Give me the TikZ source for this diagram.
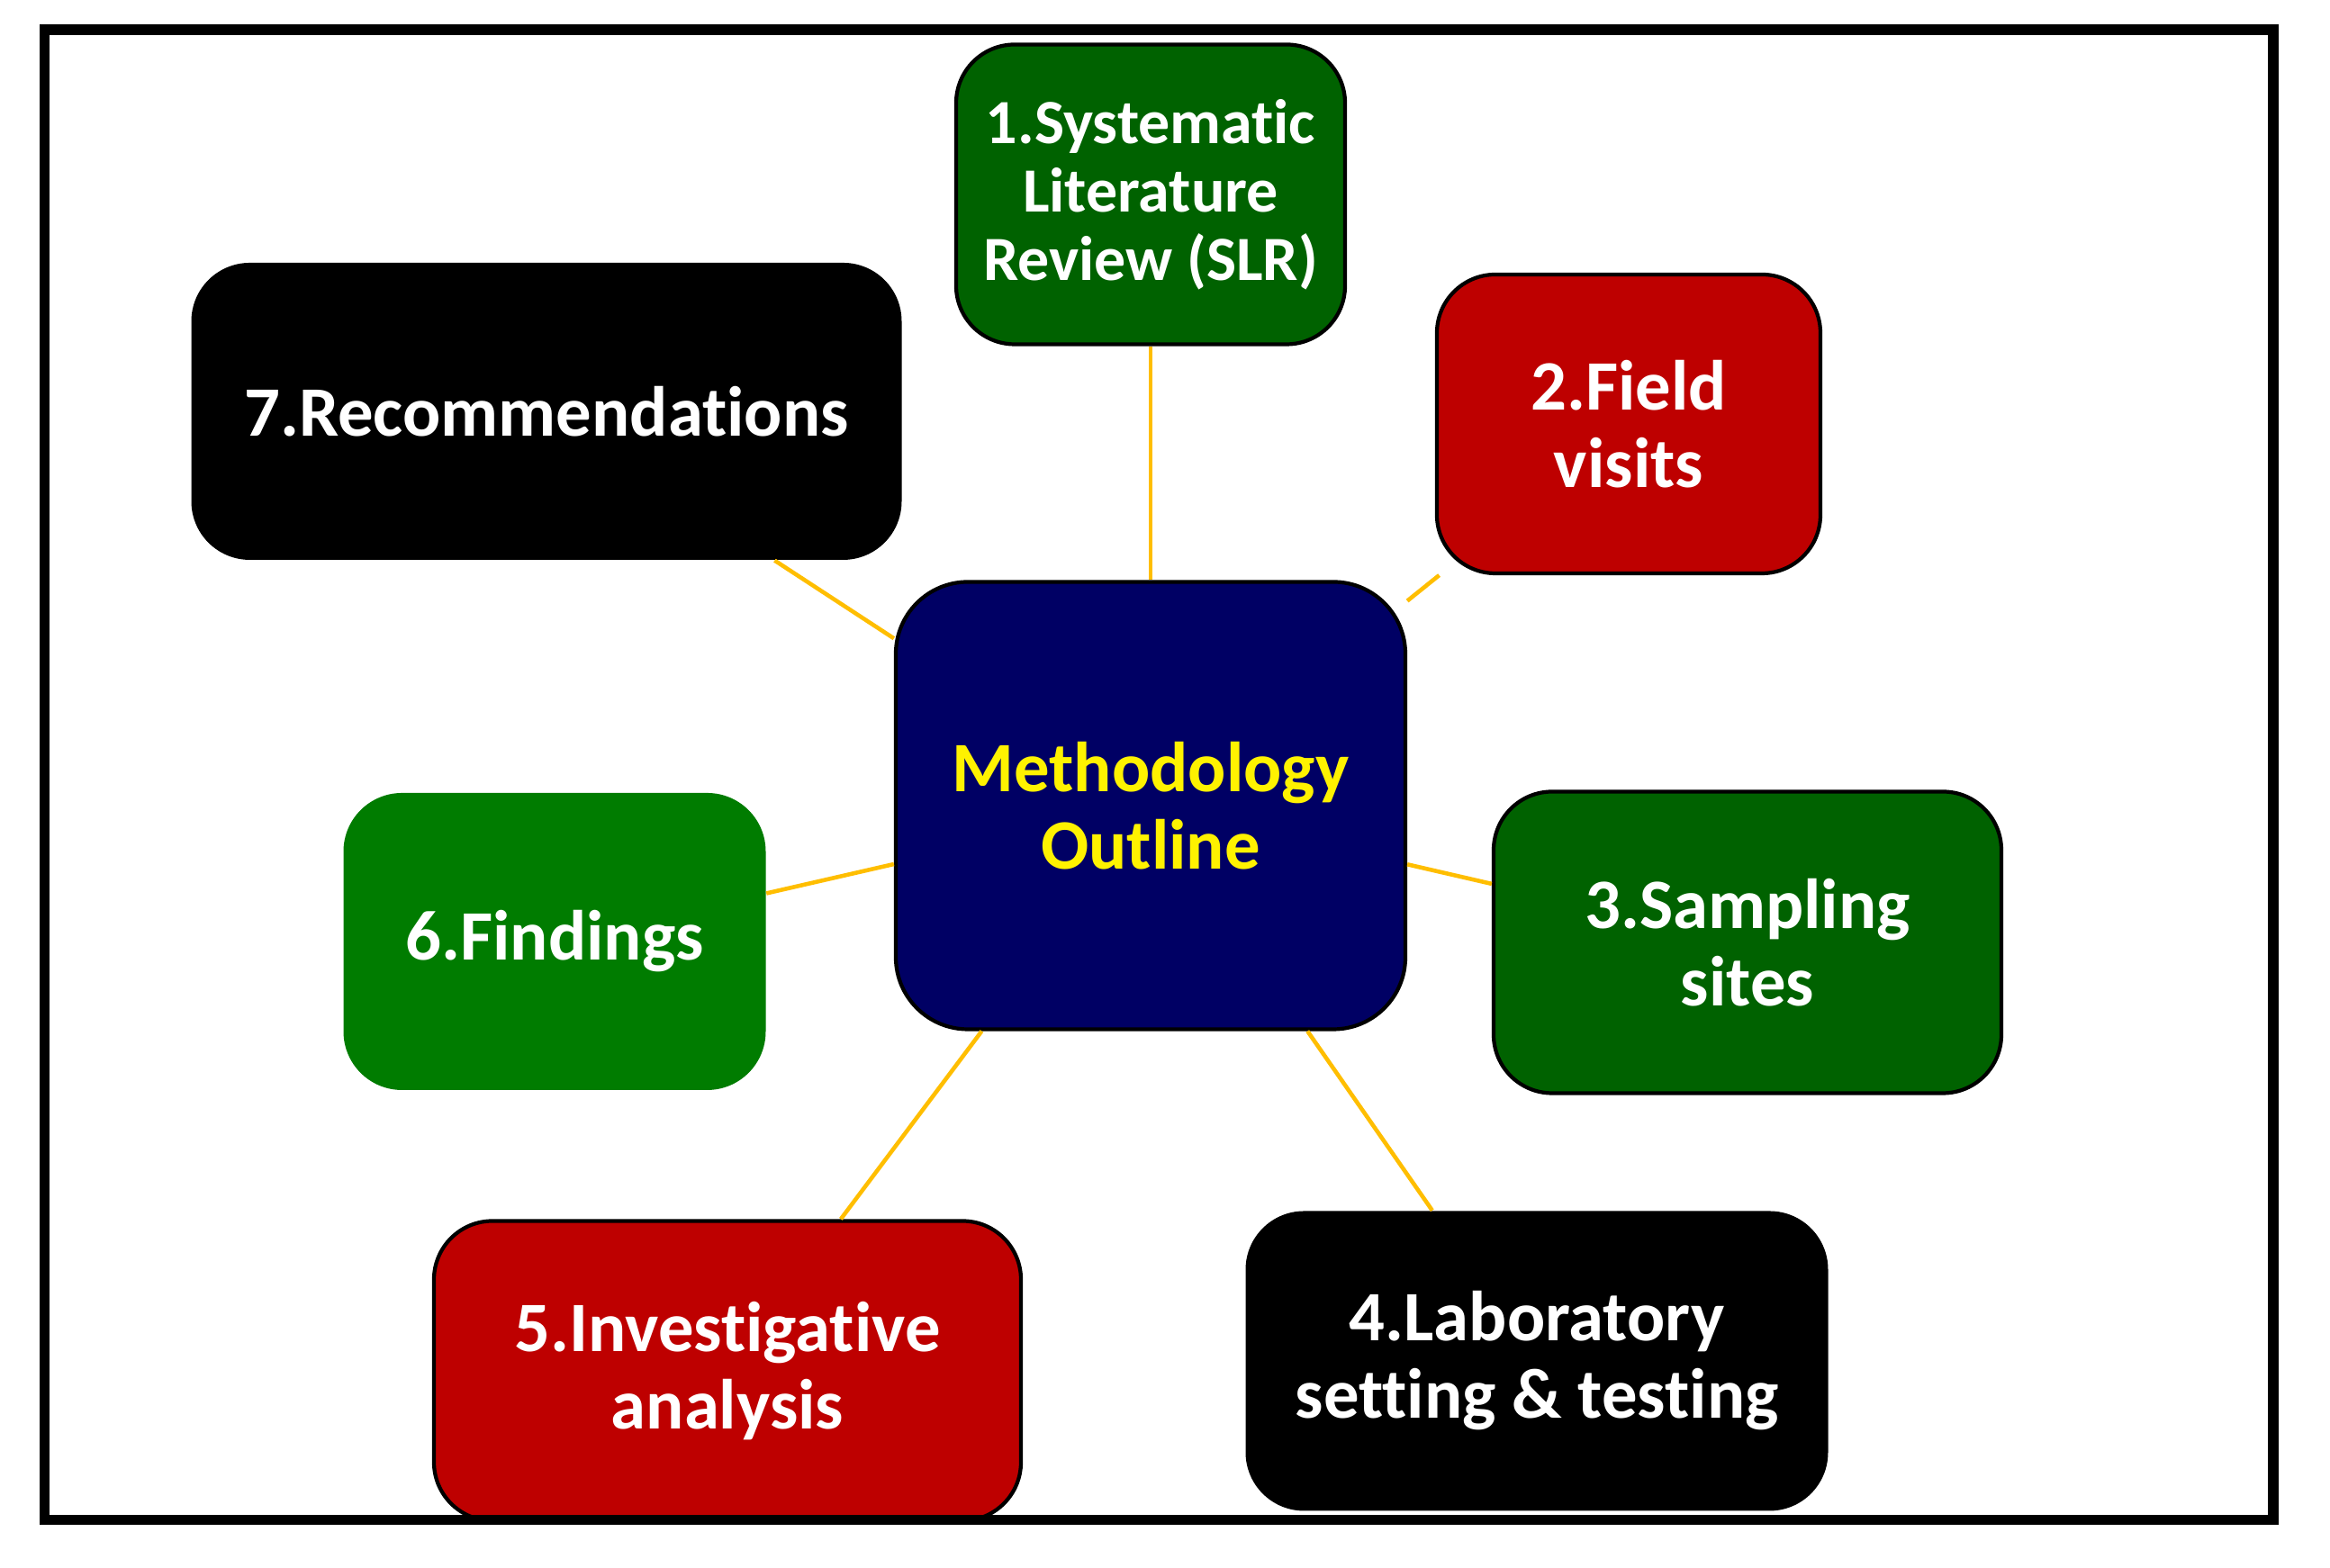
\documentclass[tikz,border=0pt]{standalone}
\usepackage{fontspec}
\setmainfont[Ligatures=NoCommon]{Carlito}
\usepackage{tikz}
\usepackage{xcolor}
\usetikzlibrary{positioning}
\definecolor{DeepGreen}{RGB}{0, 98, 0}
\definecolor{LeafGreen}{RGB}{0, 124, 0}
\definecolor{BoxRed}{RGB}{190, 0, 0}
\definecolor{HubNavy}{RGB}{0, 0, 100}
\definecolor{LinkGold}{RGB}{255, 190, 0}

\begin{document}
\begin{tikzpicture}[
    box/.style={rectangle, rounded corners=0.65cm, align=center, text=white,
        font=\fontsize{22.4}{24.5}\selectfont\bfseries, inner sep=0pt},
    hub/.style={box, rounded corners=0.8cm, fill=HubNavy, draw=black, line width=1.2pt,
        text=yellow, minimum width=5.66cm, minimum height=4.97cm},
    link/.style={draw=LinkGold, line width=1.3pt}
]

% Canvas
\fill[white] (0,0) rectangle (25.88,17.42);
\useasboundingbox (0,0) rectangle (25.88,17.42);

% Central node
\node[hub] (hub) at (12.78, 8.47) {Methodology\\Outline};

% Outer steps
\node[box, fill=DeepGreen, draw=black, line width=1.2pt, minimum width=4.32cm, minimum height=3.33cm,
    font=\fontsize{19.9}{21.6}\selectfont\bfseries] (slr) at (12.78, 15.26) {1.Systematic\\Literature\\Review (SLR)};
\node[box, fill=BoxRed, draw=black, line width=1.2pt, minimum width=4.26cm, minimum height=3.32cm] (field) at (18.09, 12.71) {2.Field\\visits};
\node[box, fill=DeepGreen, draw=black, line width=1.2pt, minimum width=5.64cm, minimum height=3.35cm] (sampling) at (19.41, 6.95) {3.Sampling\\sites};
\node[box, fill=black, minimum width=6.47cm, minimum height=3.33cm] (lab) at (17.07, 2.30) {4.Laboratory\\setting \& testing};
\node[box, fill=BoxRed, draw=black, line width=1.2pt, minimum width=6.52cm, minimum height=3.33cm] (invest) at (8.08, 2.19) {5.Investigative\\analysis};
\node[box, fill=LeafGreen, minimum width=4.69cm, minimum height=3.30cm] (findings) at (6.16, 6.96) {6.Findings};
\node[box, fill=black, minimum width=7.89cm, minimum height=3.30cm] (recom) at (6.07, 12.85) {7.Recommendations};

% Links to the centre
\foreach \n in {slr, field, sampling, lab, invest, findings, recom} {
    \draw[link] (hub) -- (\n);
}

% Frame
\draw[line width=3.3pt] (0.495, 0.535) rectangle (25.25, 17.09);

\end{tikzpicture}
\end{document}
